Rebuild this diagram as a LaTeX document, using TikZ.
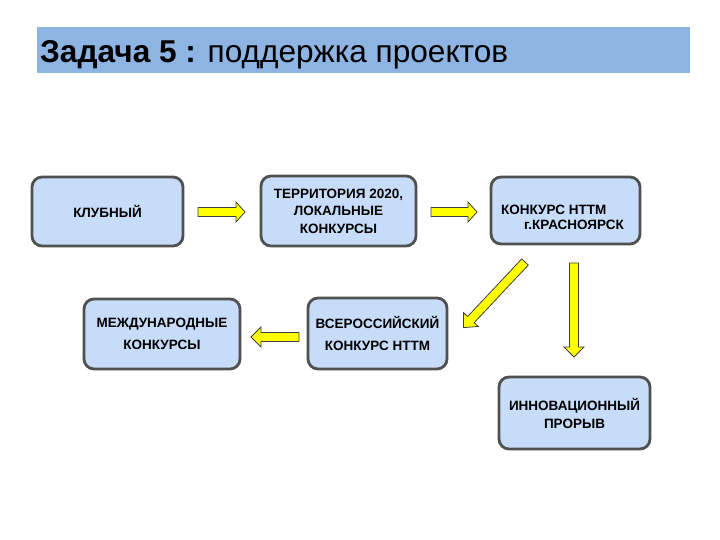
\documentclass[tikz,border=0pt]{standalone}
\usepackage{fontspec}
\setmainfont{Liberation Sans}
\definecolor{titlebar}{RGB}{141,180,226}
\definecolor{boxfill}{RGB}{198,220,248}
\definecolor{boxline}{RGB}{80,80,80}
\definecolor{arrowfill}{RGB}{255,255,0}
\tikzset{
  stagebox/.style={draw=boxline, line width=2.8pt, fill=boxfill, rounded corners=10pt,
    font=\bfseries\fontsize{13.5}{17.5}\selectfont, align=center, inner sep=2pt},
  stagetext/.style={font=\bfseries\fontsize{13.5}{17.5}\selectfont, inner sep=0pt},
  yarrow/.style={draw=black!75, line width=0.8pt, fill=arrowfill, line join=miter}
}
\newcommand\blockarrow[5]{%
  \draw[yarrow,shift={(#1,#2)},rotate=#3] (0,-4.5) -- ({#4-#5},-4.5) -- ({#4-#5},-10) -- (#4,0) -- ({#4-#5},10) -- ({#4-#5},4.5) -- (0,4.5) -- cycle;}
\begin{document}
\begin{tikzpicture}[x=1pt,y=-1pt]
\useasboundingbox (0,0) rectangle (720,540);
\fill[white] (0,0) rectangle (720,540);
\node[fill=titlebar, minimum width=653pt, minimum height=46pt, inner sep=0pt, anchor=north west] (bar) at (37,27) {};
\node[anchor=base west, font=\fontsize{31.6}{36}\selectfont, inner sep=0pt] (title) at (40,62.5) {\textbf{Задача 5 :} поддержка проектов};
\node[stagebox, minimum width=151pt, minimum height=69pt] (b1) at (107.5,211.5) {КЛУБНЫЙ};
\node[stagebox, minimum width=155pt, minimum height=70pt] (b2) at (338.5,211) {ТЕРРИТОРИЯ 2020,\\ЛОКАЛЬНЫЕ\\КОНКУРСЫ};
\node[stagebox, minimum width=149pt, minimum height=67pt] (b3) at (565.5,210.5) {};
\node[stagetext, align=left, font=\bfseries\fontsize{13.5}{14.5}\selectfont] (b3t) at ([xshift=-3pt,yshift=-7pt]b3.center) {КОНКУРС НТТМ\\\hspace*{23pt}г.КРАСНОЯРСК};
\node[stagebox, minimum width=156pt, minimum height=70pt, font=\bfseries\fontsize{13.5}{22}\selectfont] (b4) at (162,334) {МЕЖДУНАРОДНЫЕ\\КОНКУРСЫ};
\node[stagebox, minimum width=139pt, minimum height=71pt, font=\bfseries\fontsize{13.5}{22}\selectfont] (b5) at (377.5,333.5) {ВСЕРОССИЙСКИЙ\\КОНКУРС НТТМ};
\node[stagebox, minimum width=151pt, minimum height=72pt, font=\bfseries\fontsize{13.5}{18}\selectfont] (b6) at (574.5,413) {ИННОВАЦИОННЫЙ\\ПРОРЫВ};
\blockarrow{198}{212}{0}{47}{9}
\blockarrow{431}{212}{0}{46}{9}
\blockarrow{299}{337}{180}{48}{10}
\blockarrow{525}{262}{-133.2}{90}{11}
\blockarrow{574}{263}{-90}{94}{10}
\end{tikzpicture}
\end{document}
